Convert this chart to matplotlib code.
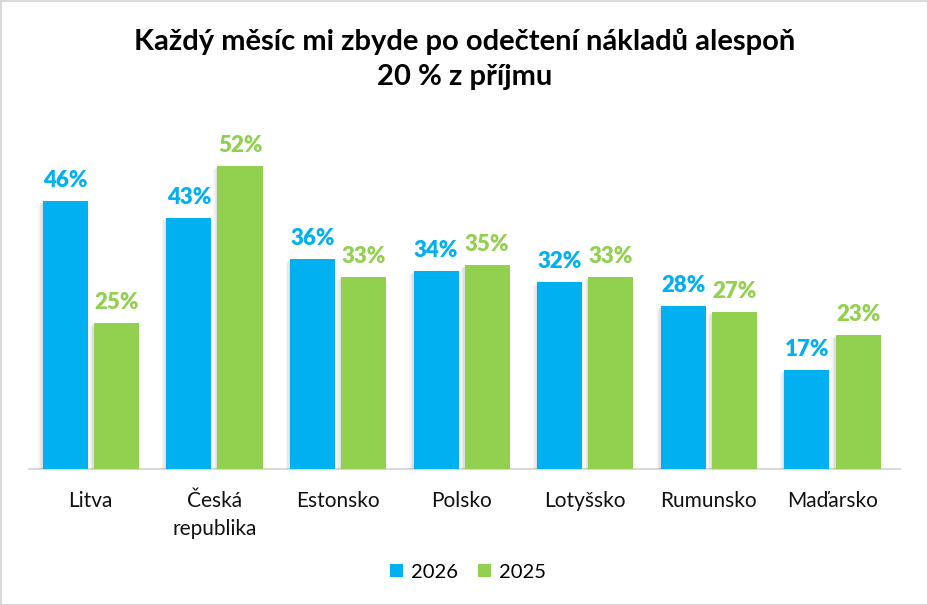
import matplotlib
matplotlib.use("Agg")
import matplotlib.pyplot as plt
import matplotlib.patheffects as pe
import numpy as np

categories = ["Litva", "Česká\nrepublika", "Estonsko", "Polsko", "Lotyšsko", "Rumunsko", "Maďarsko"]
values_2026 = [46, 43, 36, 34, 32, 28, 17]
values_2025 = [25, 52, 33, 35, 33, 27, 23]
series_names = ["2026", "2025"]
title = "Každý měsíc mi zbyde po odečtení nákladů alespoň\n20 % z příjmu"

blue = "#00B0F0"
green = "#92D050"

plt.rcParams['font.family'] = ['Lato', 'DejaVu Sans']

fig = plt.figure(figsize=(9.28, 6.05), dpi=100)
fig.patch.set_facecolor("white")
fig.patch.set_edgecolor("#D9D9D9")
fig.patch.set_linewidth(2)

ax = fig.add_axes([29/928, 136/605, 871.5/928, 350/605])
x = np.arange(len(categories))
w = 0.365
off = 0.207
shadow = [pe.SimplePatchShadow(offset=(-3, -2.5), alpha=0.06, shadow_rgbFace="#606060"),
          pe.SimplePatchShadow(offset=(-2, -1.5), alpha=0.07, shadow_rgbFace="#606060"),
          pe.SimplePatchShadow(offset=(-1, -0.8), alpha=0.08, shadow_rgbFace="#606060"),
          pe.Normal()]
b1 = ax.bar(x - off, values_2026, w, color=blue, label=series_names[0], path_effects=shadow, zorder=3)
b2 = ax.bar(x + off, values_2025, w, color=green, label=series_names[1], path_effects=shadow, zorder=3)

for xi, v in zip(x - off, values_2026):
    ax.text(xi, v + 1.7, f"{v}%", ha="center", va="bottom", color=blue, fontsize=16, fontweight="heavy")
for xi, v in zip(x + off, values_2025):
    ax.text(xi, v + 1.7, f"{v}%", ha="center", va="bottom", color=green, fontsize=16, fontweight="heavy")

ax.set_xlim(-0.5, len(categories) - 0.45)
ax.set_ylim(0, 60)
ax.set_xticks(x)
ax.set_xticklabels(categories, fontsize=15, color="#111111", linespacing=1.5)
ax.tick_params(axis="x", length=0, pad=16)
ax.set_yticks([])
for s in ["top", "right", "left"]:
    ax.spines[s].set_visible(False)
ax.spines["bottom"].set_color("#D9D9D9")
ax.spines["bottom"].set_linewidth(1.5)

fig.text(465/928, 1 - 59/605, title, ha="center", va="center", fontsize=21, fontweight="bold",
         linespacing=1.45, color="black")

leg = fig.legend(handles=[b1, b2], labels=series_names, loc="center", bbox_to_anchor=(468/928, 1 - 572/605),
                 ncol=2, frameon=False, fontsize=14.5, handlelength=0.65, handleheight=0.65,
                 handletextpad=0.4, columnspacing=1.0)
for h in leg.legend_handles:
    h.set_path_effects([])

fig.savefig("out.png", dpi=100, facecolor=fig.get_facecolor(), edgecolor=fig.get_edgecolor())
